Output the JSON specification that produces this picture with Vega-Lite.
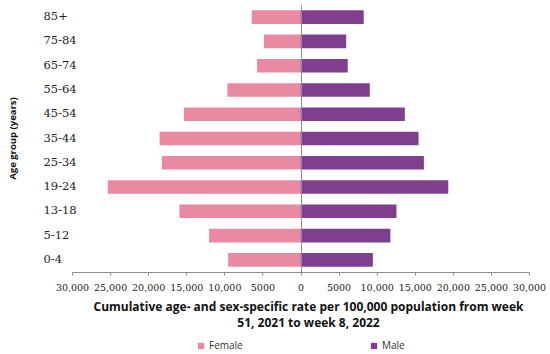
{
  "$schema": "https://vega.github.io/schema/vega-lite/v6.json",
  "width": 457,
  "height": 267,
  "autosize": {"type": "none"},
  "padding": {"left": 72, "top": 5, "right": 21, "bottom": 82},
  "background": "white",
  "config": {"view": {"stroke": null}},
  "data": {
    "values": [
      {"age": "85+", "sex": "Female", "rate": -6400},
      {"age": "85+", "sex": "Male", "rate": 8300},
      {"age": "75-84", "sex": "Female", "rate": -4800},
      {"age": "75-84", "sex": "Male", "rate": 6000},
      {"age": "65-74", "sex": "Female", "rate": -5700},
      {"age": "65-74", "sex": "Male", "rate": 6200},
      {"age": "55-64", "sex": "Female", "rate": -9600},
      {"age": "55-64", "sex": "Male", "rate": 9100},
      {"age": "45-54", "sex": "Female", "rate": -15300},
      {"age": "45-54", "sex": "Male", "rate": 13700},
      {"age": "35-44", "sex": "Female", "rate": -18500},
      {"age": "35-44", "sex": "Male", "rate": 15500},
      {"age": "25-34", "sex": "Female", "rate": -18200},
      {"age": "25-34", "sex": "Male", "rate": 16200},
      {"age": "19-24", "sex": "Female", "rate": -25300},
      {"age": "19-24", "sex": "Male", "rate": 19400},
      {"age": "13-18", "sex": "Female", "rate": -15900},
      {"age": "13-18", "sex": "Male", "rate": 12600},
      {"age": "5-12", "sex": "Female", "rate": -12000},
      {"age": "5-12", "sex": "Male", "rate": 11800},
      {"age": "0-4", "sex": "Female", "rate": -9500},
      {"age": "0-4", "sex": "Male", "rate": 9500}
    ]
  },
  "mark": {"type": "bar"},
  "encoding": {
    "y": {
      "field": "age",
      "type": "nominal",
      "sort": ["85+", "75-84", "65-74", "55-64", "45-54", "35-44", "25-34", "19-24", "13-18", "5-12", "0-4"],
      "scale": {"paddingInner": 0.44, "paddingOuter": 0.22},
      "axis": {
        "orient": "left",
        "domain": false,
        "ticks": false,
        "grid": false,
        "labelAlign": "left",
        "labelPadding": 29,
        "labelFont": "DejaVu Serif",
        "labelFontSize": 11.5,
        "labelColor": "#222222",
        "title": "Age group (years)",
        "titleFont": "Open Sans",
        "titleFontSize": 9.5,
        "titleFontWeight": "bold",
        "titleColor": "#111111",
        "titleAngle": -90,
        "titleX": -60,
        "titleY": 133,
        "titleBaseline": "middle",
        "titleAlign": "center"
      }
    },
    "x": {
      "field": "rate",
      "type": "quantitative",
      "scale": {"domain": [-30000, 30000], "nice": false},
      "axis": {
        "values": [-30000, -25000, -20000, -15000, -10000, -5000, 0, 5000, 10000, 15000, 20000, 25000, 30000],
        "labelExpr": "abs(datum.value) >= 10000 ? format(abs(datum.value), ',') : format(abs(datum.value), 'd')",
        "domainColor": "#8c8c8c",
        "tickColor": "#8c8c8c",
        "tickSize": 3,
        "grid": true,
        "gridColor": "#8c8c8c",
        "gridOpacity": {"condition": {"test": "datum.value === 0", "value": 1}, "value": 0},
        "zindex": 1,
        "labelFont": "DejaVu Serif",
        "labelFontSize": 9.5,
        "labelColor": "#222222",
        "labelPadding": 7,
        "labelFlush": false,
        "labelOverlap": false,
        "title": ["Cumulative age- and sex-specific rate per 100,000 population from week", "51, 2021 to week 8, 2022"],
        "titleFont": "Open Sans",
        "titleFontSize": 12,
        "titleFontWeight": "bold",
        "titleColor": "#111111",
        "titleX": 236,
        "titleY": 29,
        "titleBaseline": "top",
        "titleAlign": "center",
        "titleLineHeight": 16
      }
    },
    "color": {
      "field": "sex",
      "type": "nominal",
      "scale": {"domain": ["Female", "Male"], "range": ["#E98AA2", "#7F3F8E"]},
      "legend": {
        "orient": "none",
        "legendX": 124,
        "legendY": 336,
        "direction": "horizontal",
        "title": null,
        "symbolType": "square",
        "symbolSize": 40,
        "symbolStrokeWidth": 0,
        "labelFont": "Open Sans",
        "labelFontSize": 10,
        "labelColor": "#333333",
        "labelOffset": 3,
        "columnPadding": 126
      }
    }
  }
}
